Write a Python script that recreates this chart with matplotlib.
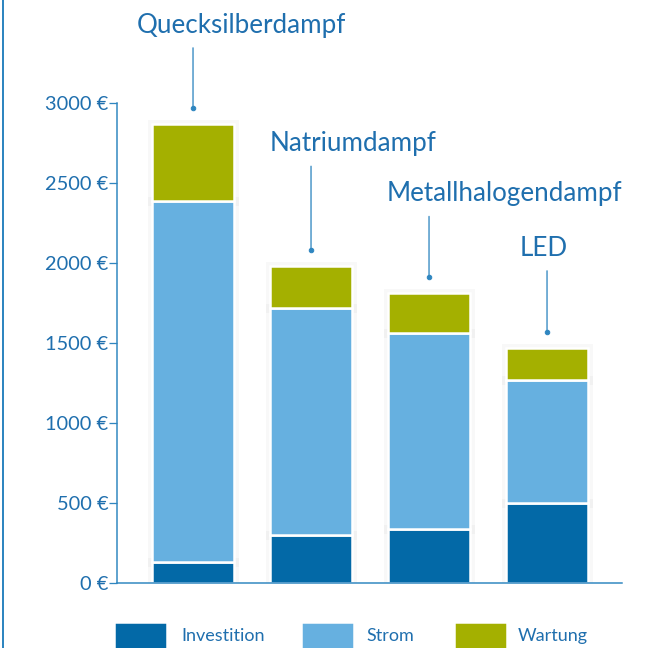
import matplotlib
matplotlib.use('Agg')
from matplotlib import pyplot as plt
from matplotlib.patches import Rectangle
from matplotlib.lines import Line2D
import numpy as np

lamps = ['Quecksilberdampf', 'Natriumdampf', 'Metallhalogendampf', 'LED']
investition = [130, 300, 340, 500]
strom = [2260, 1420, 1220, 770]
wartung = [480, 260, 250, 200]
series_names = ['Investition', 'Strom', 'Wartung']
series_colors = ['#0369a7', '#66b0e0', '#a4b000']
yticks = [0, 500, 1000, 1500, 2000, 2500, 3000]
# pointer line length and label x shift above each bar (points)
pointer_len = [60, 84, 61, 61]
label_dx = [-56, -41, -42, -27]

TEXT = '#1f6fae'
AXIS = '#2f86c0'

plt.rcParams['font.family'] = ['Lato', 'DejaVu Sans']

fig = plt.figure(figsize=(9, 9), dpi=72)
ax = fig.add_axes([0.1806, 0.1003, 0.7794, 0.7407])

x = np.arange(len(lamps))
bottom = np.zeros(len(lamps))
for vals, name, color in zip([investition, strom, wartung], series_names, series_colors):
    # soft shadow behind each segment
    ax.bar(x, vals, width=0.7, bottom=bottom, color='none',
           edgecolor='#00000007', linewidth=9, zorder=1)
    ax.bar(x, vals, width=0.7, bottom=bottom, color=color,
           edgecolor='white', linewidth=2.5, label=name, zorder=2)
    bottom += np.array(vals)

totals = bottom
for xi, total, name, plen, dx in zip(x, totals, lamps, pointer_len, label_dx):
    dot_y = total + 100
    ax.plot([xi], [dot_y], 'o', color=AXIS, markersize=4.5, clip_on=False, zorder=3)
    ax.annotate('', xy=(xi, dot_y), xytext=(0, plen), textcoords='offset points',
                arrowprops=dict(arrowstyle='-', color=AXIS, lw=1.3,
                                shrinkA=0, shrinkB=0), annotation_clip=False)
    ax.annotate(name, xy=(xi, dot_y), xytext=(dx, plen + 15), textcoords='offset points',
                ha='left', va='baseline', fontsize=26, color=TEXT,
                annotation_clip=False)

ax.set_xlim(-0.644, 3.636)
ax.set_ylim(0, 3000)
ax.set_xticks([])
ax.set_yticks(yticks)
ax.set_yticklabels([f'{v} €' for v in yticks], fontsize=20, color=TEXT)
ax.tick_params(axis='y', direction='out', length=8, width=1.3, color=AXIS, pad=0.5)
for side in ['top', 'right']:
    ax.spines[side].set_visible(False)
for side in ['left', 'bottom']:
    ax.spines[side].set_color(AXIS)
    ax.spines[side].set_linewidth(1.5)

# left border line of the page
fig.add_artist(Line2D([3 / 648, 3 / 648], [0, 1], color=AXIS, lw=2,
                      transform=fig.transFigure))

# legend drawn at the bottom edge
legend_x = [114, 301, 454]
text_x = [181, 366, 518]
for lx, tx, name, color in zip(legend_x, text_x, series_names, series_colors):
    fig.add_artist(Rectangle((lx / 648, -0.02), 53 / 648, (648 - 622 + 13) / 648,
                             transform=fig.transFigure, facecolor=color,
                             edgecolor='white', linewidth=2.5))
    fig.text(tx / 648, 1 - 636 / 648, name, fontsize=18, color=TEXT,
             ha='left', va='center')

fig.savefig('out.png', dpi=72)
